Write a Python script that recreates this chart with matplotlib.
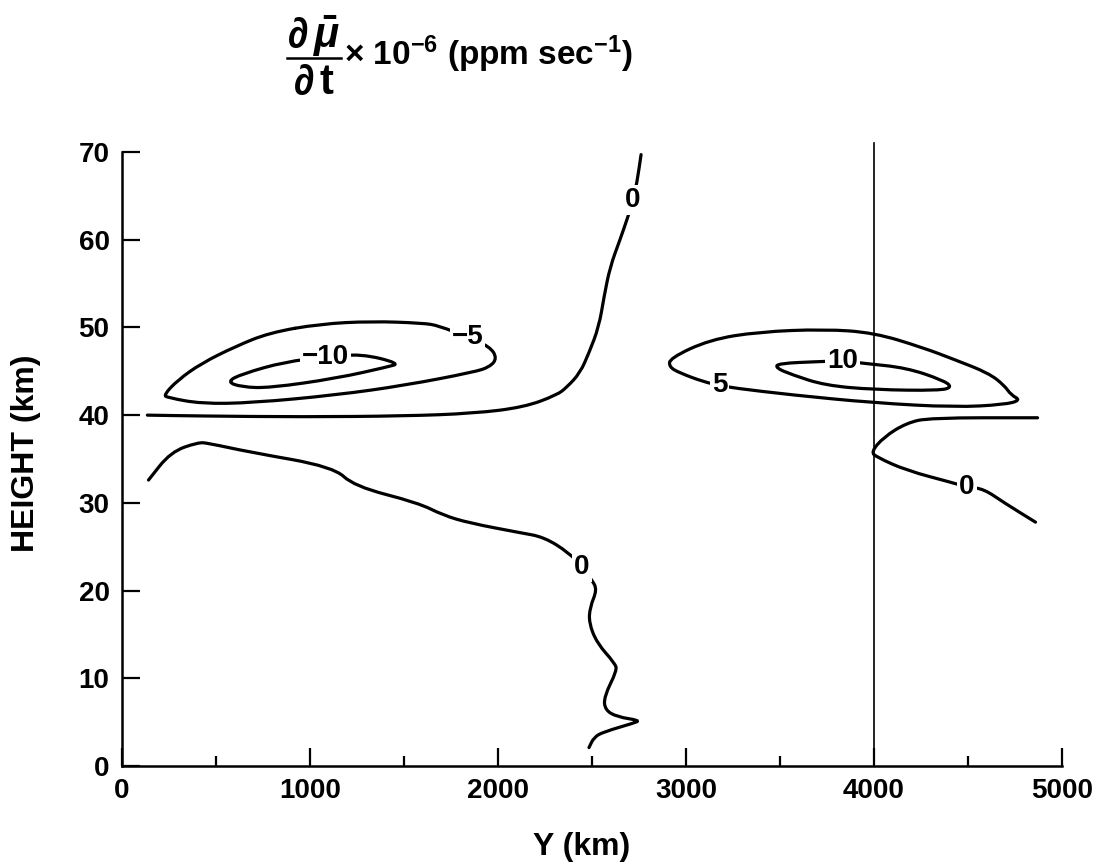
import matplotlib
matplotlib.use("Agg")
import matplotlib.pyplot as plt
from matplotlib.path import Path
from matplotlib.patches import PathPatch
from matplotlib.lines import Line2D

plt.rcParams['font.family'] = ['Liberation Sans', 'DejaVu Sans']
plt.rcParams['font.weight'] = 'bold'
plt.rcParams['mathtext.fontset'] = 'custom'
plt.rcParams['mathtext.rm'] = 'Liberation Sans:bold'
plt.rcParams['mathtext.it'] = 'Liberation Sans:italic:bold'
plt.rcParams['mathtext.bf'] = 'Liberation Sans:bold'
plt.rcParams['mathtext.sf'] = 'Liberation Sans:bold'

# zero contour, upper left branch (runs along 40 km then up to the top)
zero_upper_y = [135, 422, 962, 1505, 1870, 2138, 2314, 2367, 2436, 2484, 2537,
                2564, 2596, 2649, 2691, 2718, 2739, 2761]
zero_upper_h = [40.0, 39.9, 39.8, 39.9, 40.2, 40.9, 42.3, 43.2, 44.8, 47.1, 50.1,
                53.5, 56.9, 60.0, 62.6, 64.5, 66.5, 69.7]

# zero contour, lower left branch
zero_lower_y = [141, 259, 405, 459, 676, 1125, 1234, 1576, 1707, 1848, 2117, 2245,
                2378, 2447, 2500, 2527, 2489, 2484, 2527, 2622, 2633, 2564, 2569,
                2633, 2755, 2723, 2564, 2511, 2484]
zero_lower_h = [32.6, 35.8, 36.9, 36.8, 35.8, 34.1, 31.9, 30.0, 28.6, 27.7, 26.6, 26.1,
                24.3, 22.7, 21.2, 20.1, 18.1, 16.3, 14.0, 11.7, 10.9, 7.9, 6.4,
                5.6, 5.2, 4.9, 3.9, 3.3, 2.1]

# zero contour, right branch
zero_right_y = [4870, 4297, 4172, 4052, 3984, 4016, 4172, 4417, 4495, 4583, 4693, 4859]
zero_right_h = [39.7, 39.7, 39.1, 37.5, 35.8, 35.2, 33.7, 32.3, 31.8, 31.6, 30.0, 27.8]

# -5 closed contour
neg5_y = [1054, 1326, 1598, 1685, 1837, 1957, 1995, 1957, 1870, 1505, 1141, 692,
          422, 243, 222, 297, 422, 600, 784, 1054]
neg5_h = [50.4, 50.7, 50.5, 50.2, 48.9, 47.8, 46.5, 45.5, 44.9, 43.4, 42.3, 41.4,
          41.3, 42.0, 42.3, 44.0, 45.9, 47.8, 49.4, 50.4]

# -10 closed contour
neg10_y = [1082, 1272, 1478, 1413, 1141, 784, 638, 557, 638, 870, 1082]
neg10_h = [46.6, 47.0, 45.9, 45.5, 44.2, 43.1, 43.2, 43.8, 44.7, 46.1, 46.6]

# +5 closed contour
pos5_y = [3178, 3251, 3565, 4000, 4432, 4693, 4781, 4729, 4693, 4609, 4432, 4260,
          4000, 3738, 3387, 3126, 2915, 2910, 2968, 3094, 3178]
pos5_h = [43.4, 43.1, 42.3, 41.4, 40.9, 41.2, 41.7, 42.3, 43.4, 44.8, 46.3, 47.7,
          49.4, 49.8, 49.5, 48.6, 46.5, 45.5, 44.8, 43.8, 43.4]

# +10 closed contour
pos10_y = [3833, 3948, 4172, 4365, 4417, 4349, 4000, 3738, 3565, 3476, 3492, 3702, 3833]
pos10_h = [46.2, 45.9, 45.4, 44.0, 43.2, 42.8, 42.9, 43.4, 44.6, 45.4, 45.9, 46.1, 46.2]

# contour labels: text, Y (km), height (km)
label_text = ['0', '0', '0', '\u22125', '\u221210', '5', '10']
label_y = [2718, 2447, 4495, 1837, 1082, 3178, 3833]
label_h = [64.5, 22.7, 31.8, 48.9, 46.6, 43.4, 46.2]

x_ticks = [0, 1000, 2000, 3000, 4000, 5000]
x_minor = [500, 1500, 2500, 3500, 4500]
y_ticks = [0, 10, 20, 30, 40, 50, 60, 70]
divider_y = 4000


def smooth_path(xs, ys, closed=False):
    """Quadratic Bezier path through the midpoints of a hand-traced polyline."""
    pts = list(zip(xs, ys))
    mid = lambda a, b: ((a[0] + b[0]) / 2, (a[1] + b[1]) / 2)
    if closed:
        pts = pts[:-1]
        n = len(pts)
        verts = [mid(pts[-1], pts[0])]
        codes = [Path.MOVETO]
        for i in range(n):
            verts += [pts[i], mid(pts[i], pts[(i + 1) % n])]
            codes += [Path.CURVE3, Path.CURVE3]
        return Path(verts, codes)
    verts = [pts[0], mid(pts[0], pts[1])]
    codes = [Path.MOVETO, Path.LINETO]
    for i in range(1, len(pts) - 1):
        verts += [pts[i], mid(pts[i], pts[i + 1])]
        codes += [Path.CURVE3, Path.CURVE3]
    verts.append(pts[-1])
    codes.append(Path.LINETO)
    return Path(verts, codes)


fig = plt.figure(figsize=(11.1, 8.68), dpi=100)
ax = fig.add_axes([122 / 1110, 1 - 766 / 868, 940 / 1110, 614 / 868])

curves = [(zero_upper_y, zero_upper_h, False), (zero_lower_y, zero_lower_h, False),
          (zero_right_y, zero_right_h, False), (neg5_y, neg5_h, True),
          (neg10_y, neg10_h, True), (pos5_y, pos5_h, True), (pos10_y, pos10_h, True)]
for xs, hs, closed in curves:
    ax.add_patch(PathPatch(smooth_path(xs, hs, closed), fc='none', ec='black',
                           lw=2.3, capstyle='round', joinstyle='round', clip_on=False))

ax.plot([divider_y, divider_y], [0, 71], color='black', lw=1.2, clip_on=False)

for t, xv, hv in zip(label_text, label_y, label_h):
    ax.text(xv, hv, t, ha='center', va='center', fontsize=20, fontweight='bold',
            bbox=dict(fc='white', ec='none', pad=1.5), zorder=5)

ax.set_xlim(0, 5000)
ax.set_ylim(0, 70)
ax.set_xticks(x_ticks)
ax.set_xticks(x_minor, minor=True)
ax.set_yticks(y_ticks)
ax.tick_params(which='both', direction='in', width=1.6, labelsize=20, pad=9)
ax.tick_params(which='major', length=13)
ax.tick_params(which='minor', length=7)
for lab in ax.get_xticklabels() + ax.get_yticklabels():
    lab.set_fontweight('bold')

for side in ['top', 'right']:
    ax.spines[side].set_visible(False)
for side in ['left', 'bottom']:
    ax.spines[side].set_linewidth(1.8)

ax.set_xlabel('Y (km)', fontsize=23, fontweight='bold')
ax.xaxis.set_label_coords(0.489, -0.132)
ax.xaxis.label.set_va('center')
ax.set_ylabel('HEIGHT (km)', fontsize=23, fontweight='bold')
ax.yaxis.set_label_coords(-0.102, 0.51)
ax.yaxis.label.set_va('center')

# units heading: d(mu-bar)/dt as a stacked fraction, then the scale factor
W, H = 1110, 868
fig.text(314 / W, 1 - 36 / H, r'$\partial\,\bar{\mu}$', ha='center', va='center',
         fontsize=30, fontweight='bold')
fig.add_artist(Line2D([287 / W, 341 / W], [1 - 58 / H, 1 - 58 / H],
                      transform=fig.transFigure, color='black', lw=1.8))
fig.text(314 / W, 1 - 83 / H, r'$\partial\,\mathrm{t}$', ha='center', va='center',
         fontsize=30, fontweight='bold')
fig.text(344 / W, 1 - 65 / H, r'$\times$ 10$^{-6}$ (ppm sec$^{-1}$)',
         ha='left', va='baseline', fontsize=24, fontweight='bold')

fig.savefig('out.png', dpi=100, facecolor='white')
